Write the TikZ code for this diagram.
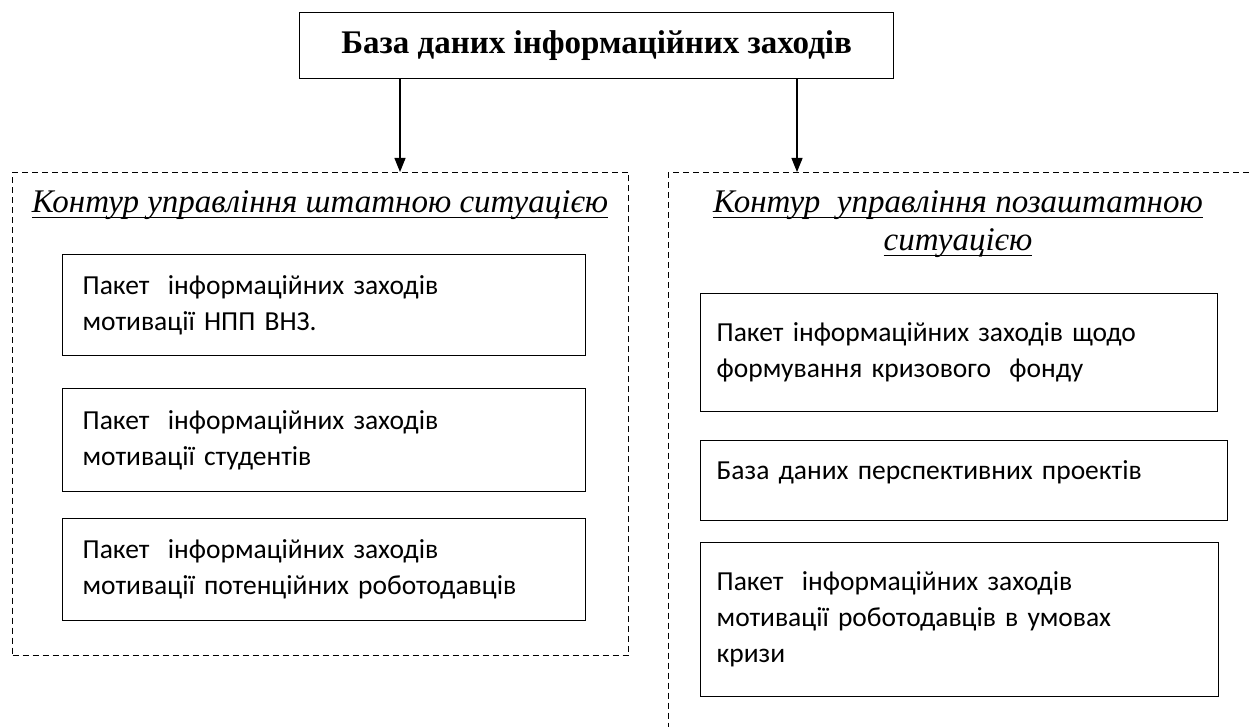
\documentclass[tikz,border=0pt]{standalone}
\usepackage{fontspec}
\setmainfont{Liberation Serif}
\newfontfamily\bodyfont{Carlito}
\usetikzlibrary{arrows.meta}

\newcommand{\titleline}[1]{\setbox0\hbox{#1}\rlap{\rule[-6pt]{\wd0}{1.6pt}}\box0}

\tikzset{
  packet/.style={draw, line width=1.3pt, anchor=north west, align=left,
    inner xsep=20pt, inner ysep=0pt,
    font=\bodyfont\fontsize{27.5}{36}\selectfont},
  contour/.style={draw, line width=1pt, dash pattern=on 6pt off 4pt, anchor=north west},
  headline/.style={font=\itshape\fontsize{33}{38}\selectfont, align=center},
  arr/.style={-{Triangle[width=11pt,length=14pt]}, line width=1.2pt}
}

\begin{document}
\begin{tikzpicture}[x=1pt,y=-1pt]
\useasboundingbox (0,0) rectangle (1252,727);
% top box
\node[draw, line width=1.3pt, anchor=north west, minimum width=594pt, minimum height=66pt,
  font=\bfseries\fontsize{33}{36}\selectfont] (db) at (299,12) {База даних інформаційних заходів};
% contours
\node[contour, minimum width=616pt, minimum height=483pt] (lc) at (12,172) {};
\node[contour, minimum width=600pt, minimum height=580pt] (rc) at (668,172) {};
\node[headline] (lt) at (320,205) {\titleline{Контур управління штатною ситуацією}};
\node[headline] (rt) at (958,224) {\titleline{Контур\ \ управління позаштатною}\\\titleline{ситуацією}};
% arrows
\coordinate (la) at (400,172);
\coordinate (ra) at (797,172);
\draw[arr] (db.south -| la) -- (la);
\draw[arr] (db.south -| ra) -- (ra);
% left packets
\node[packet, text width=483pt, minimum height=101pt] (l1) at (62,254) {Пакет\ \ інформаційних заходів\\мотивації НПП ВНЗ.};
\node[packet, text width=483pt, minimum height=103pt] (l2) at (62,388) {Пакет\ \ інформаційних заходів\\мотивації студентів};
\node[packet, text width=483pt, minimum height=102pt] (l3) at (62,518) {Пакет\ \ інформаційних заходів\\мотивації потенційних роботодавців};
% right packets
\node[packet, text width=485pt, minimum height=118pt, inner xsep=16pt] (r1) at (700,293) {Пакет інформаційних заходів щодо\\формування кризового\ \ фонду\\[-8pt]};
\node[packet, text width=495pt, minimum height=80pt, inner xsep=16pt, text depth=22pt] (r2) at (700,440) {База даних перспективних проектів};
\node[packet, text width=486pt, minimum height=154pt, inner xsep=16pt] (r3) at (700,542) {Пакет\ \ інформаційних заходів\\мотивації роботодавців в умовах\\кризи\\[-8pt]};
\end{tikzpicture}
\end{document}
